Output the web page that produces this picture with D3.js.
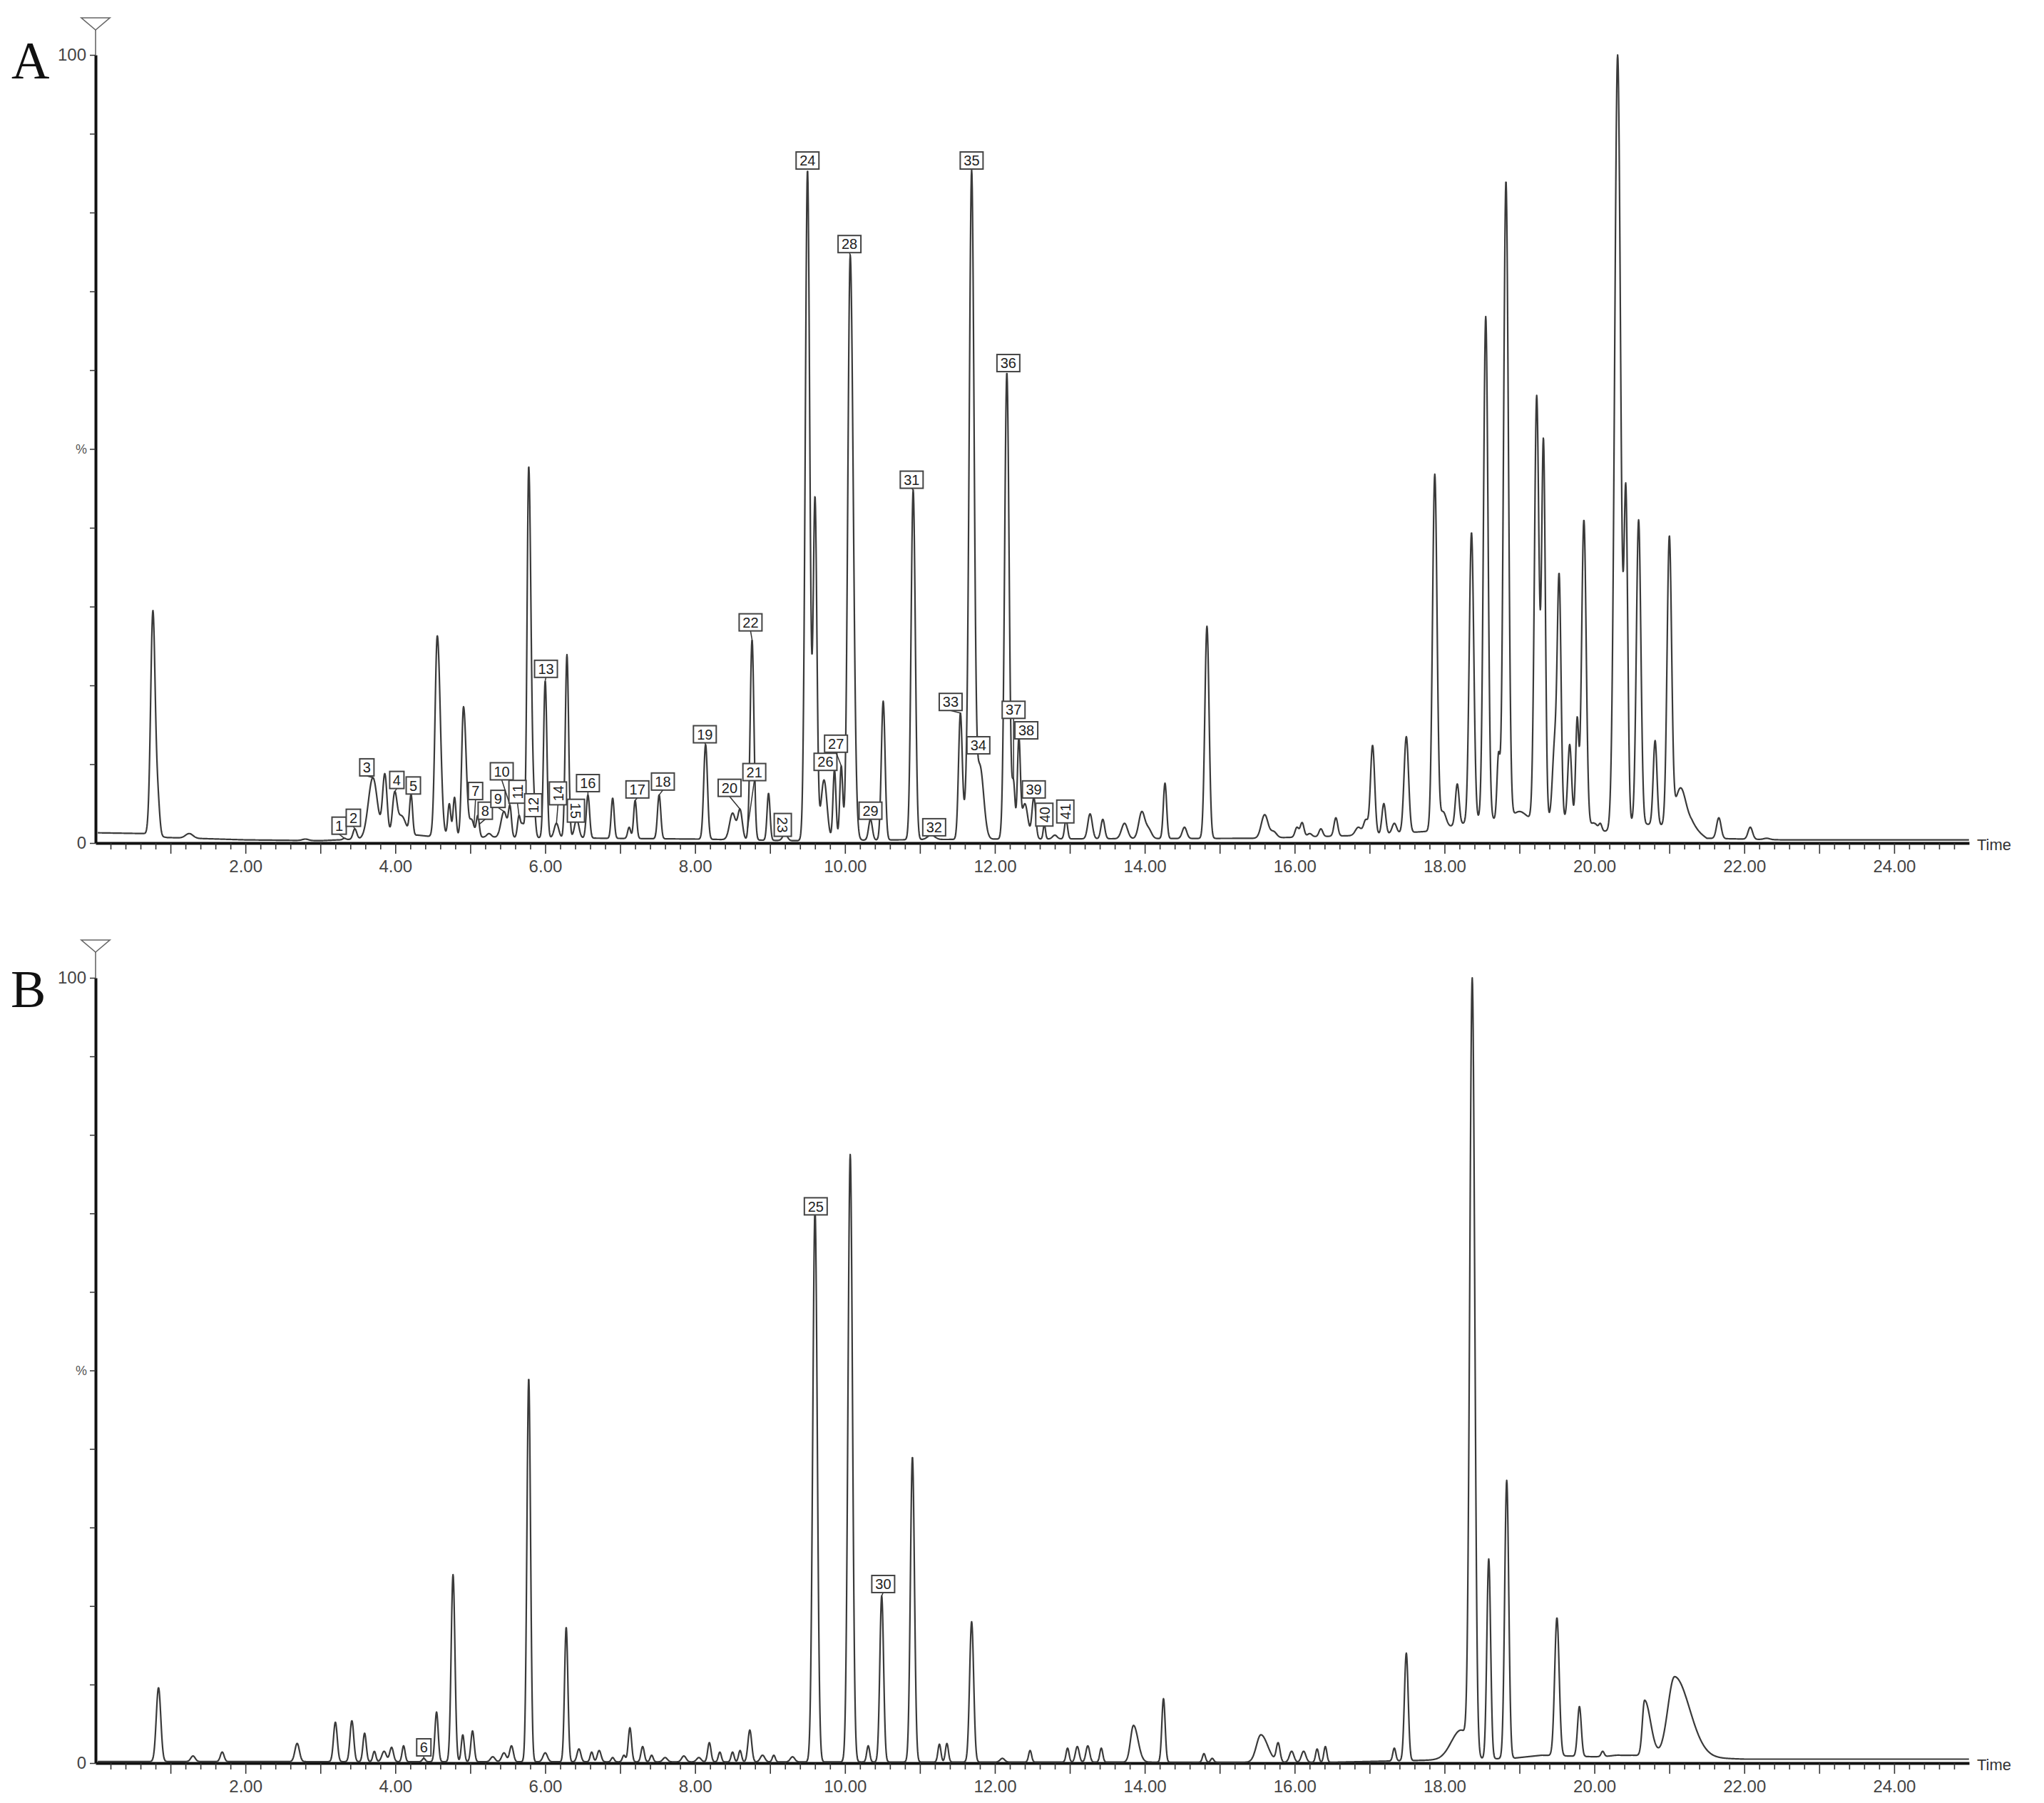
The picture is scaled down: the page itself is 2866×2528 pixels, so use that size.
<!DOCTYPE html>
<html>
<head>
<meta charset="utf-8">
<script src="https://cdn.jsdelivr.net/npm/d3@7"></script>
<style>
  html, body { margin: 0; padding: 0; background: #fff; }
  svg { display: block; }
  .tick text { font-family: "Liberation Sans", Arial, sans-serif; }
</style>
</head>
<body>
<svg id="chart"></svg>
<script>
// Retention-time peaks: [time (min), apex %, sigma left, sigma right?]
const peaksA = [
  [0.70, 4, 0.015], [0.765, 29.5, 0.03], [0.83, 8, 0.025],
  [1.25, 1.2, 0.05], [1.4, 0.4, 0.05], [1.85, 0.4, 0.03], [2.8, 0.5, 0.04],
  [3.32, 0.6, 0.02], [3.46, 1.8, 0.025],
  [3.7, 8.3, 0.06], [3.86, 8.8, 0.03], [3.99, 6.5, 0.03], [4.08, 3.5, 0.06], [4.21, 6.2, 0.02],
  [4.56, 26.3, 0.03, 0.04], [4.72, 5, 0.02], [4.79, 5.8, 0.02], [4.91, 17.3, 0.025, 0.035],
  [5.02, 3, 0.03], [5.1, 3.5, 0.02], [5.25, 1.2, 0.03], [5.45, 4, 0.04], [5.53, 4.8, 0.02],
  [5.65, 3.5, 0.02], [5.7, 2.5, 0.02],
  [5.78, 47.8, 0.022, 0.03], [5.85, 7, 0.02], [6.0, 20.6, 0.022], [6.15, 2.5, 0.03],
  [6.29, 23.9, 0.022], [6.42, 3, 0.03], [6.57, 6.1, 0.022],
  [6.9, 5.7, 0.02], [7.12, 2, 0.02], [7.2, 5.4, 0.02], [7.52, 6.1, 0.022],
  [8.14, 12.5, 0.025], [8.5, 3.8, 0.04], [8.6, 4.3, 0.03], [8.76, 25.8, 0.025],
  [8.98, 6.3, 0.02], [9.2, 1.2, 0.03],
  [9.5, 85.4, 0.03], [9.6, 44, 0.025], [9.72, 8, 0.04], [9.86, 9.3, 0.02], [9.95, 9.8, 0.02],
  [10.07, 74.6, 0.032, 0.04],
  [10.34, 3, 0.025], [10.51, 18, 0.025], [10.91, 44.8, 0.028], [11.15, 1, 0.05],
  [11.54, 16.5, 0.025], [11.62, 12, 0.03], [11.69, 85.4, 0.032], [11.8, 10, 0.05],
  [12.16, 59.7, 0.03], [12.25, 8, 0.02], [12.32, 13.5, 0.02], [12.4, 5, 0.04],
  [12.52, 5.8, 0.025], [12.66, 2.4, 0.015], [12.8, 1, 0.03], [12.95, 3, 0.02],
  [13.27, 3.7, 0.03], [13.44, 3, 0.025], [13.73, 2.5, 0.04], [13.96, 4, 0.04], [14.05, 2, 0.04],
  [14.27, 7.6, 0.022], [14.53, 2, 0.03], [14.83, 27.5, 0.028],
  [15.6, 3.6, 0.045], [15.72, 1.5, 0.04], [16.03, 2, 0.025], [16.1, 2.6, 0.025], [16.2, 1.2, 0.03],
  [16.35, 1.8, 0.025], [16.55, 3.2, 0.025], [16.85, 2, 0.04], [16.95, 3, 0.03],
  [17.04, 12.4, 0.028], [17.19, 5, 0.025], [17.33, 2.5, 0.03], [17.49, 13.5, 0.03],
  [17.87, 46.8, 0.03], [17.98, 4, 0.04], [18.17, 7.5, 0.025], [18.36, 39.4, 0.03],
  [18.55, 66.8, 0.03], [18.72, 11.5, 0.02], [18.82, 84, 0.032], [19.0, 4, 0.08],
  [19.23, 56.8, 0.03], [19.32, 51.4, 0.025], [19.47, 14, 0.03], [19.53, 34.2, 0.025],
  [19.67, 12.5, 0.025], [19.77, 16, 0.02], [19.86, 41, 0.03], [20.0, 2.5, 0.04], [20.08, 2.5, 0.02],
  [20.31, 100, 0.04], [20.42, 45.5, 0.025], [20.59, 41, 0.03], [20.81, 13, 0.025],
  [21.0, 39, 0.03], [21.15, 7, 0.07], [21.3, 3, 0.06], [21.66, 3.2, 0.03],
  [22.08, 2, 0.03], [22.3, 0.6, 0.04]
];

const peaksB = [
  [0.84, 9.6, 0.03], [1.3, 0.9, 0.03], [1.69, 1.4, 0.025], [2.69, 2.5, 0.03],
  [3.2, 5.2, 0.025], [3.42, 5.4, 0.025], [3.59, 3.8, 0.022], [3.72, 1.5, 0.02],
  [3.85, 1.5, 0.03], [3.95, 2, 0.025], [4.11, 2.2, 0.02], [4.38, 0.6, 0.02],
  [4.55, 6.5, 0.022], [4.77, 24, 0.025], [4.9, 3.6, 0.02], [5.03, 4.1, 0.022],
  [5.3, 0.8, 0.03], [5.45, 1.3, 0.03], [5.55, 2.2, 0.025], [5.78, 49, 0.024],
  [6.0, 1.3, 0.03], [6.28, 17.3, 0.022], [6.45, 1.8, 0.025], [6.62, 1.4, 0.02],
  [6.72, 1.6, 0.025], [6.9, 0.7, 0.02], [7.05, 1, 0.02], [7.13, 4.5, 0.022],
  [7.3, 2.1, 0.022], [7.42, 1, 0.02], [7.6, 0.7, 0.03], [7.85, 0.9, 0.03],
  [8.05, 0.7, 0.03], [8.19, 2.6, 0.022], [8.33, 1.4, 0.02], [8.5, 1.4, 0.02],
  [8.6, 1.6, 0.02], [8.73, 4.2, 0.025], [8.9, 1, 0.03], [9.05, 1, 0.02], [9.3, 0.8, 0.03],
  [9.6, 70.5, 0.03], [10.07, 77.5, 0.03], [10.31, 2.2, 0.02], [10.49, 21.3, 0.025],
  [10.9, 39, 0.027], [11.26, 2.4, 0.02], [11.36, 2.5, 0.02], [11.69, 18, 0.027],
  [12.1, 0.6, 0.03], [12.47, 1.6, 0.02], [12.97, 1.9, 0.02], [13.1, 2.1, 0.025],
  [13.24, 2.2, 0.025], [13.42, 1.9, 0.02], [13.85, 4.8, 0.04, 0.06], [14.25, 8.2, 0.022],
  [14.79, 1.2, 0.02], [14.9, 0.6, 0.02], [15.55, 3.6, 0.06, 0.09], [15.78, 2.6, 0.025],
  [15.96, 1.5, 0.03], [16.12, 1.5, 0.03], [16.3, 1.8, 0.02], [16.41, 2.1, 0.02],
  [17.33, 1.9, 0.02], [17.49, 14, 0.025], [18.22, 4.2, 0.13, 0.1],
  [18.37, 100, 0.033], [18.59, 26, 0.025], [18.83, 36, 0.027], [19.5, 18.5, 0.03],
  [19.8, 7.2, 0.025], [20.11, 1.5, 0.02], [20.3, 1, 0.06], [20.67, 8, 0.03, 0.08],
  [21.07, 11, 0.09, 0.2]
];

// Baselines: [time, %]
const baseA = [[0, 1.3], [0.65, 1.2], [0.95, 0.7], [2, 0.4], [3, 0.3], [3.5, 0.5], [4.3, 1.0],
  [4.5, 0.8], [8, 0.5], [9.3, 0.3], [12, 0.5], [15.5, 0.6], [17, 1], [17.8, 1.5], [18.5, 3],
  [19.8, 3], [20.0, 1.5], [20.2, 1.5], [20.5, 2.5], [21.3, 2], [21.5, 0.6], [22.5, 0.4], [25, 0.4]];
const baseB = [[0, 0.2], [16.5, 0.1], [18.9, 0.6], [19.3, 1], [20, 0.8], [20.5, 1.0], [22, 0.5], [25, 0.5]];

// Numbered peak labels: [id, peak time, box time, box %, rotation]
const labelsA = [
  ["1", 3.32, 3.25, 2.2, 0], ["2", 3.46, 3.44, 3.2, 0], ["3", 3.7, 3.62, 9.6, 0],
  ["4", 3.99, 4.02, 8.0, 0], ["5", 4.21, 4.24, 7.3, 0], ["7", 5.05, 5.07, 6.6, 0],
  ["8", 5.12, 5.2, 4.1, 0], ["9", 5.45, 5.37, 5.6, 0], ["10", 5.53, 5.42, 9.1, 0],
  ["11", 5.65, 5.63, 6.5, -90], ["12", 5.84, 5.84, 4.8, -90], ["13", 6.0, 6.01, 22.1, 0],
  ["14", 6.15, 6.17, 6.3, -90], ["15", 6.42, 6.41, 4.1, 90], ["16", 6.57, 6.57, 7.6, 0],
  ["17", 7.2, 7.23, 6.8, 0], ["18", 7.52, 7.57, 7.8, 0], ["19", 8.14, 8.13, 13.8, 0],
  ["20", 8.6, 8.46, 7.0, 0], ["21", 8.7, 8.79, 9.0, 0], ["22", 8.76, 8.74, 28.0, 0],
  ["23", 9.2, 9.17, 2.3, 90], ["24", 9.5, 9.5, 86.6, 0], ["26", 9.86, 9.74, 10.3, 0],
  ["27", 9.95, 9.88, 12.6, 0], ["28", 10.07, 10.06, 76.0, 0], ["29", 10.34, 10.34, 4.1, 0],
  ["31", 10.91, 10.89, 46.1, 0], ["32", 11.15, 11.19, 2.0, 0], ["33", 11.54, 11.41, 17.9, 0],
  ["34", 11.62, 11.78, 12.4, 0], ["35", 11.69, 11.69, 86.6, 0], ["36", 12.16, 12.18, 60.9, 0],
  ["37", 12.25, 12.25, 16.9, 0], ["38", 12.32, 12.42, 14.3, 0], ["39", 12.52, 12.52, 6.8, 0],
  ["40", 12.66, 12.66, 3.6, -90], ["41", 12.95, 12.94, 4.0, -90]
];
const labelsB = [
  ["6", 4.38, 4.38, 2.0, 0], ["25", 9.6, 9.61, 70.9, 0], ["30", 10.49, 10.51, 22.8, 0]
];

const timeTicks = d3.range(1, 125).map(i => +(i * 0.2).toFixed(1));
const timeLabels = [2, 4, 6, 8, 10, 12, 14, 16, 18, 20, 22, 24];
const pctTicks = d3.range(0, 101, 10);

const W = 2866, H = 2528;
const svg = d3.select("#chart").attr("width", W).attr("height", H);
svg.append("rect").attr("width", W).attr("height", H).attr("fill", "#fff");

const x = d3.scaleLinear().domain([0, 25]).range([134, 2761]);

const panels = [
  { letter: "A", top: 77, zero: 1182, tri: 25, peaks: peaksA, base: baseA, labels: labelsA, lx: 16, ly: 110 },
  { letter: "B", top: 1371, zero: 2472, tri: 1318, peaks: peaksB, base: baseB, labels: labelsB, lx: 15, ly: 1412 }
];

function makeTrace(peaks, base) {
  const baseAt = d3.scaleLinear().domain(base.map(d => d[0])).range(base.map(d => d[1])).clamp(true);
  const shape = (p, t) => {
    const d = t - p[0];
    const w = d < 0 ? p[2] : (p[3] || p[2]);
    return Math.exp(-0.5 * (d / w) * (d / w));
  };
  // solve amplitudes so the summed trace reaches each apex
  let amp = peaks.map(p => Math.max(0, p[1] - baseAt(p[0])));
  for (let it = 0; it < 80; it++) {
    amp = peaks.map((p, i) => {
      let cur = 0;
      peaks.forEach((q, j) => { cur += amp[j] * shape(q, p[0]); });
      return Math.max(0, amp[i] + 0.5 * (p[1] - baseAt(p[0]) - cur));
    });
  }
  return t => {
    let v = baseAt(t);
    peaks.forEach((q, j) => { if (Math.abs(t - q[0]) < 8 * (q[3] || q[2])) v += amp[j] * shape(q, t); });
    return Math.min(100, v);
  };
}

panels.forEach(P => {
  const y = d3.scaleLinear().domain([0, 100]).range([P.zero, P.top]);
  const g = svg.append("g");
  const at = makeTrace(P.peaks, P.base);

  // panel letter
  g.append("text").attr("x", P.lx).attr("y", P.ly)
    .attr("font-family", "'Liberation Serif', 'Times New Roman', serif")
    .attr("font-size", 74).attr("fill", "#111").text(P.letter);

  // triangle marker above the intensity axis
  const ax = x(0);
  g.append("path")
    .attr("d", `M${ax - 20},${P.tri}L${ax + 20},${P.tri}L${ax},${P.tri + 17}Z`)
    .attr("fill", "#fff").attr("stroke", "#666").attr("stroke-width", 1.6);
  g.append("line").attr("x1", ax).attr("x2", ax).attr("y1", P.tri + 17).attr("y2", P.top)
    .attr("stroke", "#666").attr("stroke-width", 1.6);

  // y axis
  const yAxis = d3.axisLeft(y).tickValues(pctTicks).tickSize(8).tickSizeOuter(0)
    .tickFormat(d => (d === 0 || d === 100) ? String(d) : "");
  const ya = g.append("g").attr("transform", `translate(${ax},0)`).call(yAxis);
  ya.select(".domain").attr("stroke", "#111").attr("stroke-width", 4);
  ya.selectAll(".tick line").attr("stroke", "#333").attr("stroke-width", 1.5);
  ya.selectAll(".tick text").attr("font-size", 24).attr("fill", "#444").attr("x", -13);
  g.append("text").attr("x", 106).attr("y", y(50) + 6)
    .attr("font-family", "'Liberation Sans', Arial, sans-serif")
    .attr("font-size", 18).attr("fill", "#555").text("%");

  // x axis
  const xAxis = d3.axisBottom(x).tickValues(timeTicks).tickSizeOuter(0)
    .tickFormat(d => timeLabels.includes(d) ? d3.format(".2f")(d) : "");
  const xa = g.append("g").attr("transform", `translate(0,${P.zero})`).call(xAxis);
  xa.select(".domain").attr("stroke", "#111").attr("stroke-width", 4);
  xa.selectAll(".tick line")
    .attr("y2", d => Number.isInteger(d) ? 15 : 9)
    .attr("stroke", "#333").attr("stroke-width", 1.6);
  xa.selectAll(".tick text").attr("font-size", 24).attr("fill", "#444").attr("y", 24);
  g.append("text").attr("x", 2772).attr("y", P.zero + 10)
    .attr("font-family", "'Liberation Sans', Arial, sans-serif")
    .attr("font-size", 22).attr("fill", "#333").text("Time");

  // chromatogram trace
  const ts = d3.range(0.03, 25.0, 0.004);
  const line = d3.line().x(t => x(t)).y(t => y(at(t)));
  g.append("path").datum(ts).attr("d", line)
    .attr("fill", "none").attr("stroke", "#3a3a3a").attr("stroke-width", 2.2)
    .attr("stroke-linejoin", "round");

  // numbered peak boxes
  const lab = g.append("g");
  P.labels.forEach(([id, pt, bt, bp, rot]) => {
    const bx = x(bt), by = y(bp);
    const long = id.length > 1 ? 32 : 20;
    const bw = rot ? 24 : long, bh = rot ? long : 24;
    const px = x(pt), py = y(at(pt));
    if (py > by + bh / 2 + 2) {
      lab.append("line").attr("x1", bx).attr("y1", by + bh / 2).attr("x2", px).attr("y2", py)
        .attr("stroke", "#333").attr("stroke-width", 1.5);
    }
    lab.append("rect").attr("x", bx - bw / 2).attr("y", by - bh / 2)
      .attr("width", bw).attr("height", bh)
      .attr("fill", "#fff").attr("stroke", "#444").attr("stroke-width", 2);
    lab.append("text")
      .attr("transform", `translate(${bx},${by}) rotate(${rot})`)
      .attr("text-anchor", "middle").attr("dy", "0.36em")
      .attr("font-family", "'Liberation Sans', Arial, sans-serif")
      .attr("font-size", 20).attr("fill", "#222").text(id);
  });
});
</script>
</body>
</html>
